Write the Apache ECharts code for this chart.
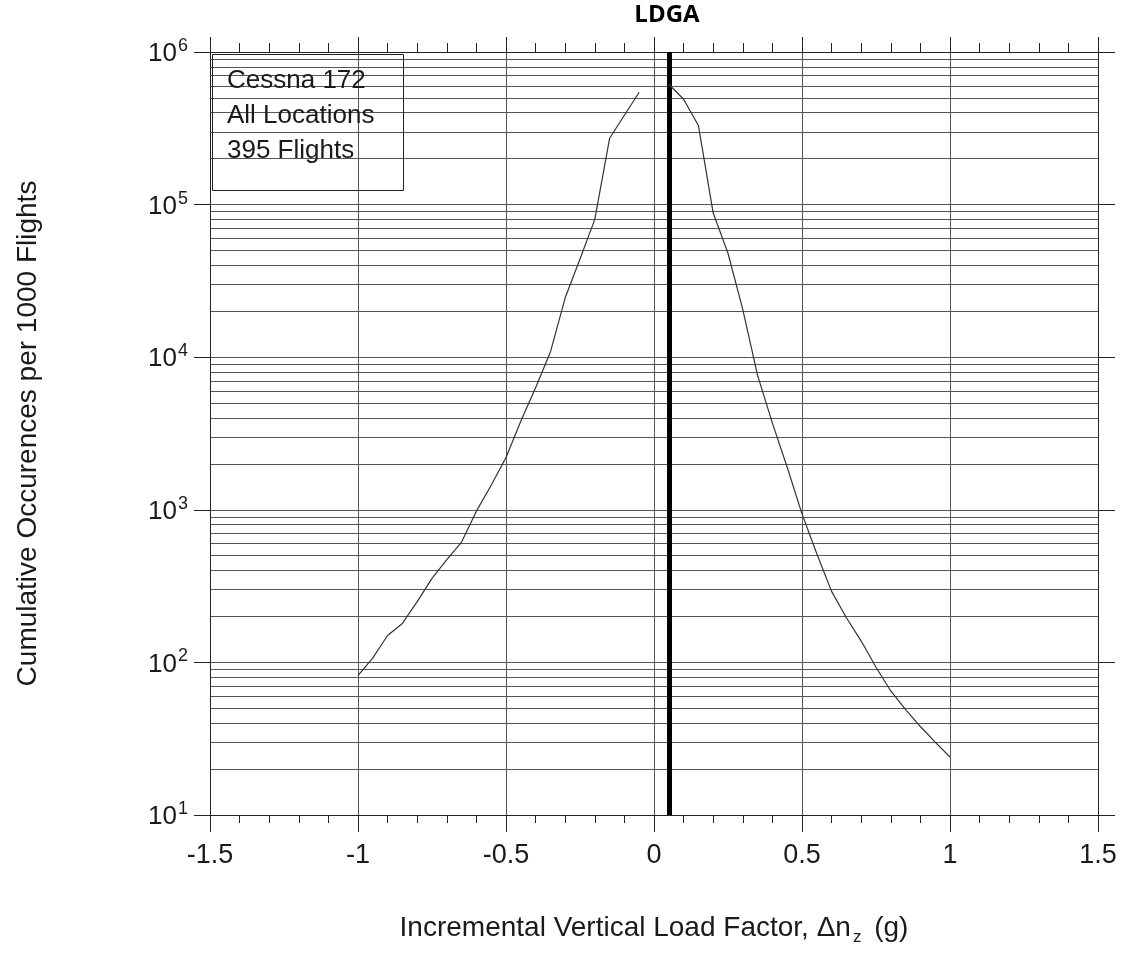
<!DOCTYPE html>
<html>
<head>
<meta charset="utf-8">
<script src="https://cdn.jsdelivr.net/npm/echarts@6/dist/echarts.min.js"></script>
<style>
html,body{margin:0;padding:0;background:#fff;}
#chart{width:1123px;height:953px;}
</style>
</head>
<body>
<div id="chart"></div>
<script>
// ---- data ----
const leftX = [-1, -0.95, -0.9, -0.85, -0.8, -0.75, -0.7, -0.65, -0.6, -0.55, -0.5, -0.45, -0.4, -0.35, -0.3, -0.25, -0.2, -0.15, -0.1, -0.05];
const leftY = [82, 107, 150, 180, 250, 355, 472, 615, 980, 1450, 2200, 3800, 6300, 10800, 24500, 44000, 80000, 272000, 385000, 545000];
const rightX = [0.05, 0.1, 0.15, 0.2, 0.25, 0.3, 0.35, 0.4, 0.45, 0.5, 0.55, 0.6, 0.65, 0.7, 0.75, 0.8, 0.85, 0.9, 0.95, 1.0];
const rightY = [615000, 490000, 330000, 88000, 48000, 20500, 7600, 3700, 1900, 940, 515, 292, 196, 138, 93, 65, 49, 38, 30, 24];
const meanLineX = 0.05;
const xTickLabels = ['-1.5', '-1', '-0.5', '0', '0.5', '1', '1.5'];
const xTickValues = [-1.5, -1, -0.5, 0, 0.5, 1, 1.5];
const yTickExponents = [1, 2, 3, 4, 5, 6];
const chartTitle = 'LDGA';
const infoLines = ['Cessna 172', 'All Locations', '395 Flights'];
const xName = 'Incremental Vertical Load Factor, Δn{sub|z} (g)';
const yName = 'Cumulative Occurences per 1000 Flights';

const pairs = (xs, ys) => xs.map((x, i) => [x, ys[i]]);

const FONT = 'Liberation Sans, Arial, sans-serif';
const gridColor = '#555';
const axisColor = '#222';
const textColor = '#1a1a1a';

const chart = echarts.init(document.getElementById('chart'), null, {renderer: 'canvas'});

const option = {
  backgroundColor: '#fff',
  animation: false,
  grid: {left: 210, right: 25, top: 52, bottom: 138, containLabel: false},
  xAxis: [
    {
      type: 'value', position: 'bottom', min: -1.5, max: 1.5, interval: 0.5,
      axisLine: {show: true, onZero: false, lineStyle: {color: axisColor, width: 1}},
      axisTick: {show: true, inside: false, length: 17, lineStyle: {color: axisColor, width: 1}},
      minorTick: {show: true, splitNumber: 5, length: 8, lineStyle: {color: axisColor, width: 1}},
      splitLine: {show: true, lineStyle: {color: gridColor, width: 1}},
      axisLabel: {
        fontSize: 27, fontFamily: FONT, color: textColor, margin: 27,
        formatter: function (v) {
          const i = xTickValues.findIndex(t => Math.abs(t - v) < 1e-9);
          return i >= 0 ? xTickLabels[i] : '';
        }
      },
      name: xName, nameLocation: 'middle', nameGap: 95,
      nameTextStyle: {
        fontSize: 28, fontFamily: FONT, color: textColor, lineHeight: 36,
        rich: {sub: {fontSize: 17, fontFamily: FONT, color: textColor, lineHeight: 17, verticalAlign: 'bottom', padding: [0, 5, 0, 2]}}
      }
    },
    {
      type: 'value', position: 'top', min: -1.5, max: 1.5, interval: 0.5,
      axisLine: {show: true, onZero: false, lineStyle: {color: axisColor, width: 1}},
      axisTick: {show: true, inside: false, length: 15, lineStyle: {color: axisColor, width: 1}},
      minorTick: {show: true, splitNumber: 5, length: 9, lineStyle: {color: axisColor, width: 1}},
      splitLine: {show: false},
      axisLabel: {show: false}
    }
  ],
  yAxis: [
    {
      type: 'log', logBase: 10, min: 10, max: 1000000, position: 'left',
      axisLine: {show: true, onZero: false, lineStyle: {color: axisColor, width: 1}},
      axisTick: {show: true, inside: false, length: 16, lineStyle: {color: axisColor, width: 1}},
      minorTick: {show: false, splitNumber: 9},
      splitLine: {show: true, lineStyle: {color: gridColor, width: 1}},
      minorSplitLine: {show: true, lineStyle: {color: gridColor, width: 1}},
      axisLabel: {
        margin: 22, color: textColor,
        formatter: function (v) {
          const e = Math.round(Math.log10(v));
          return yTickExponents.indexOf(e) >= 0 ? '{b|10}{sup|' + e + '}' : '';
        },
        rich: {
          b: {fontSize: 26, fontFamily: FONT, color: textColor, lineHeight: 30, verticalAlign: 'bottom'},
          sup: {fontSize: 18, fontFamily: FONT, color: textColor, lineHeight: 18, verticalAlign: 'top', padding: [0, 0, 0, 1]}
        }
      },
      name: yName, nameLocation: 'middle', nameGap: 168, nameRotate: 90,
      nameTextStyle: {fontSize: 28, fontFamily: FONT, color: textColor}
    },
    {
      type: 'log', logBase: 10, min: 10, max: 1000000, position: 'right',
      axisLine: {show: true, onZero: false, lineStyle: {color: axisColor, width: 1}},
      axisTick: {show: true, inside: false, length: 17, lineStyle: {color: axisColor, width: 1}},
      splitLine: {show: false},
      axisLabel: {show: false}
    }
  ],
  series: [
    {
      type: 'line', name: 'neg', xAxisIndex: 0, yAxisIndex: 0,
      data: pairs(leftX, leftY), showSymbol: false, symbol: 'none',
      lineStyle: {color: '#333', width: 1.2}, z: 5
    },
    {
      type: 'line', name: 'pos', xAxisIndex: 0, yAxisIndex: 0,
      data: pairs(rightX, rightY), showSymbol: false, symbol: 'none',
      lineStyle: {color: '#333', width: 1.2}, z: 5,
      markLine: {
        silent: true, symbol: ['none', 'none'], label: {show: false},
        lineStyle: {color: '#000', width: 5, type: 'solid'},
        data: [{xAxis: meanLineX}]
      }
    }
  ],
  graphic: [
    {
      type: 'rect', left: 210, top: 52, z: 10,
      shape: {width: 191, height: 136},
      style: {fill: 'none', stroke: '#222', lineWidth: 1}
    },
    {
      type: 'text', left: 227, top: 63, z: 11,
      style: {text: infoLines.join('\n'), font: '26px ' + FONT, fill: textColor, lineHeight: 35}
    },
    {
      type: 'text', x: 667, y: 3, z: 11,
      style: {text: chartTitle, font: 'bold 24px "Open Sans", "DejaVu Sans", sans-serif', fill: '#000', textAlign: 'center', textVerticalAlign: 'top'}
    }
  ]
};
chart.setOption(option);
</script>
</body>
</html>
